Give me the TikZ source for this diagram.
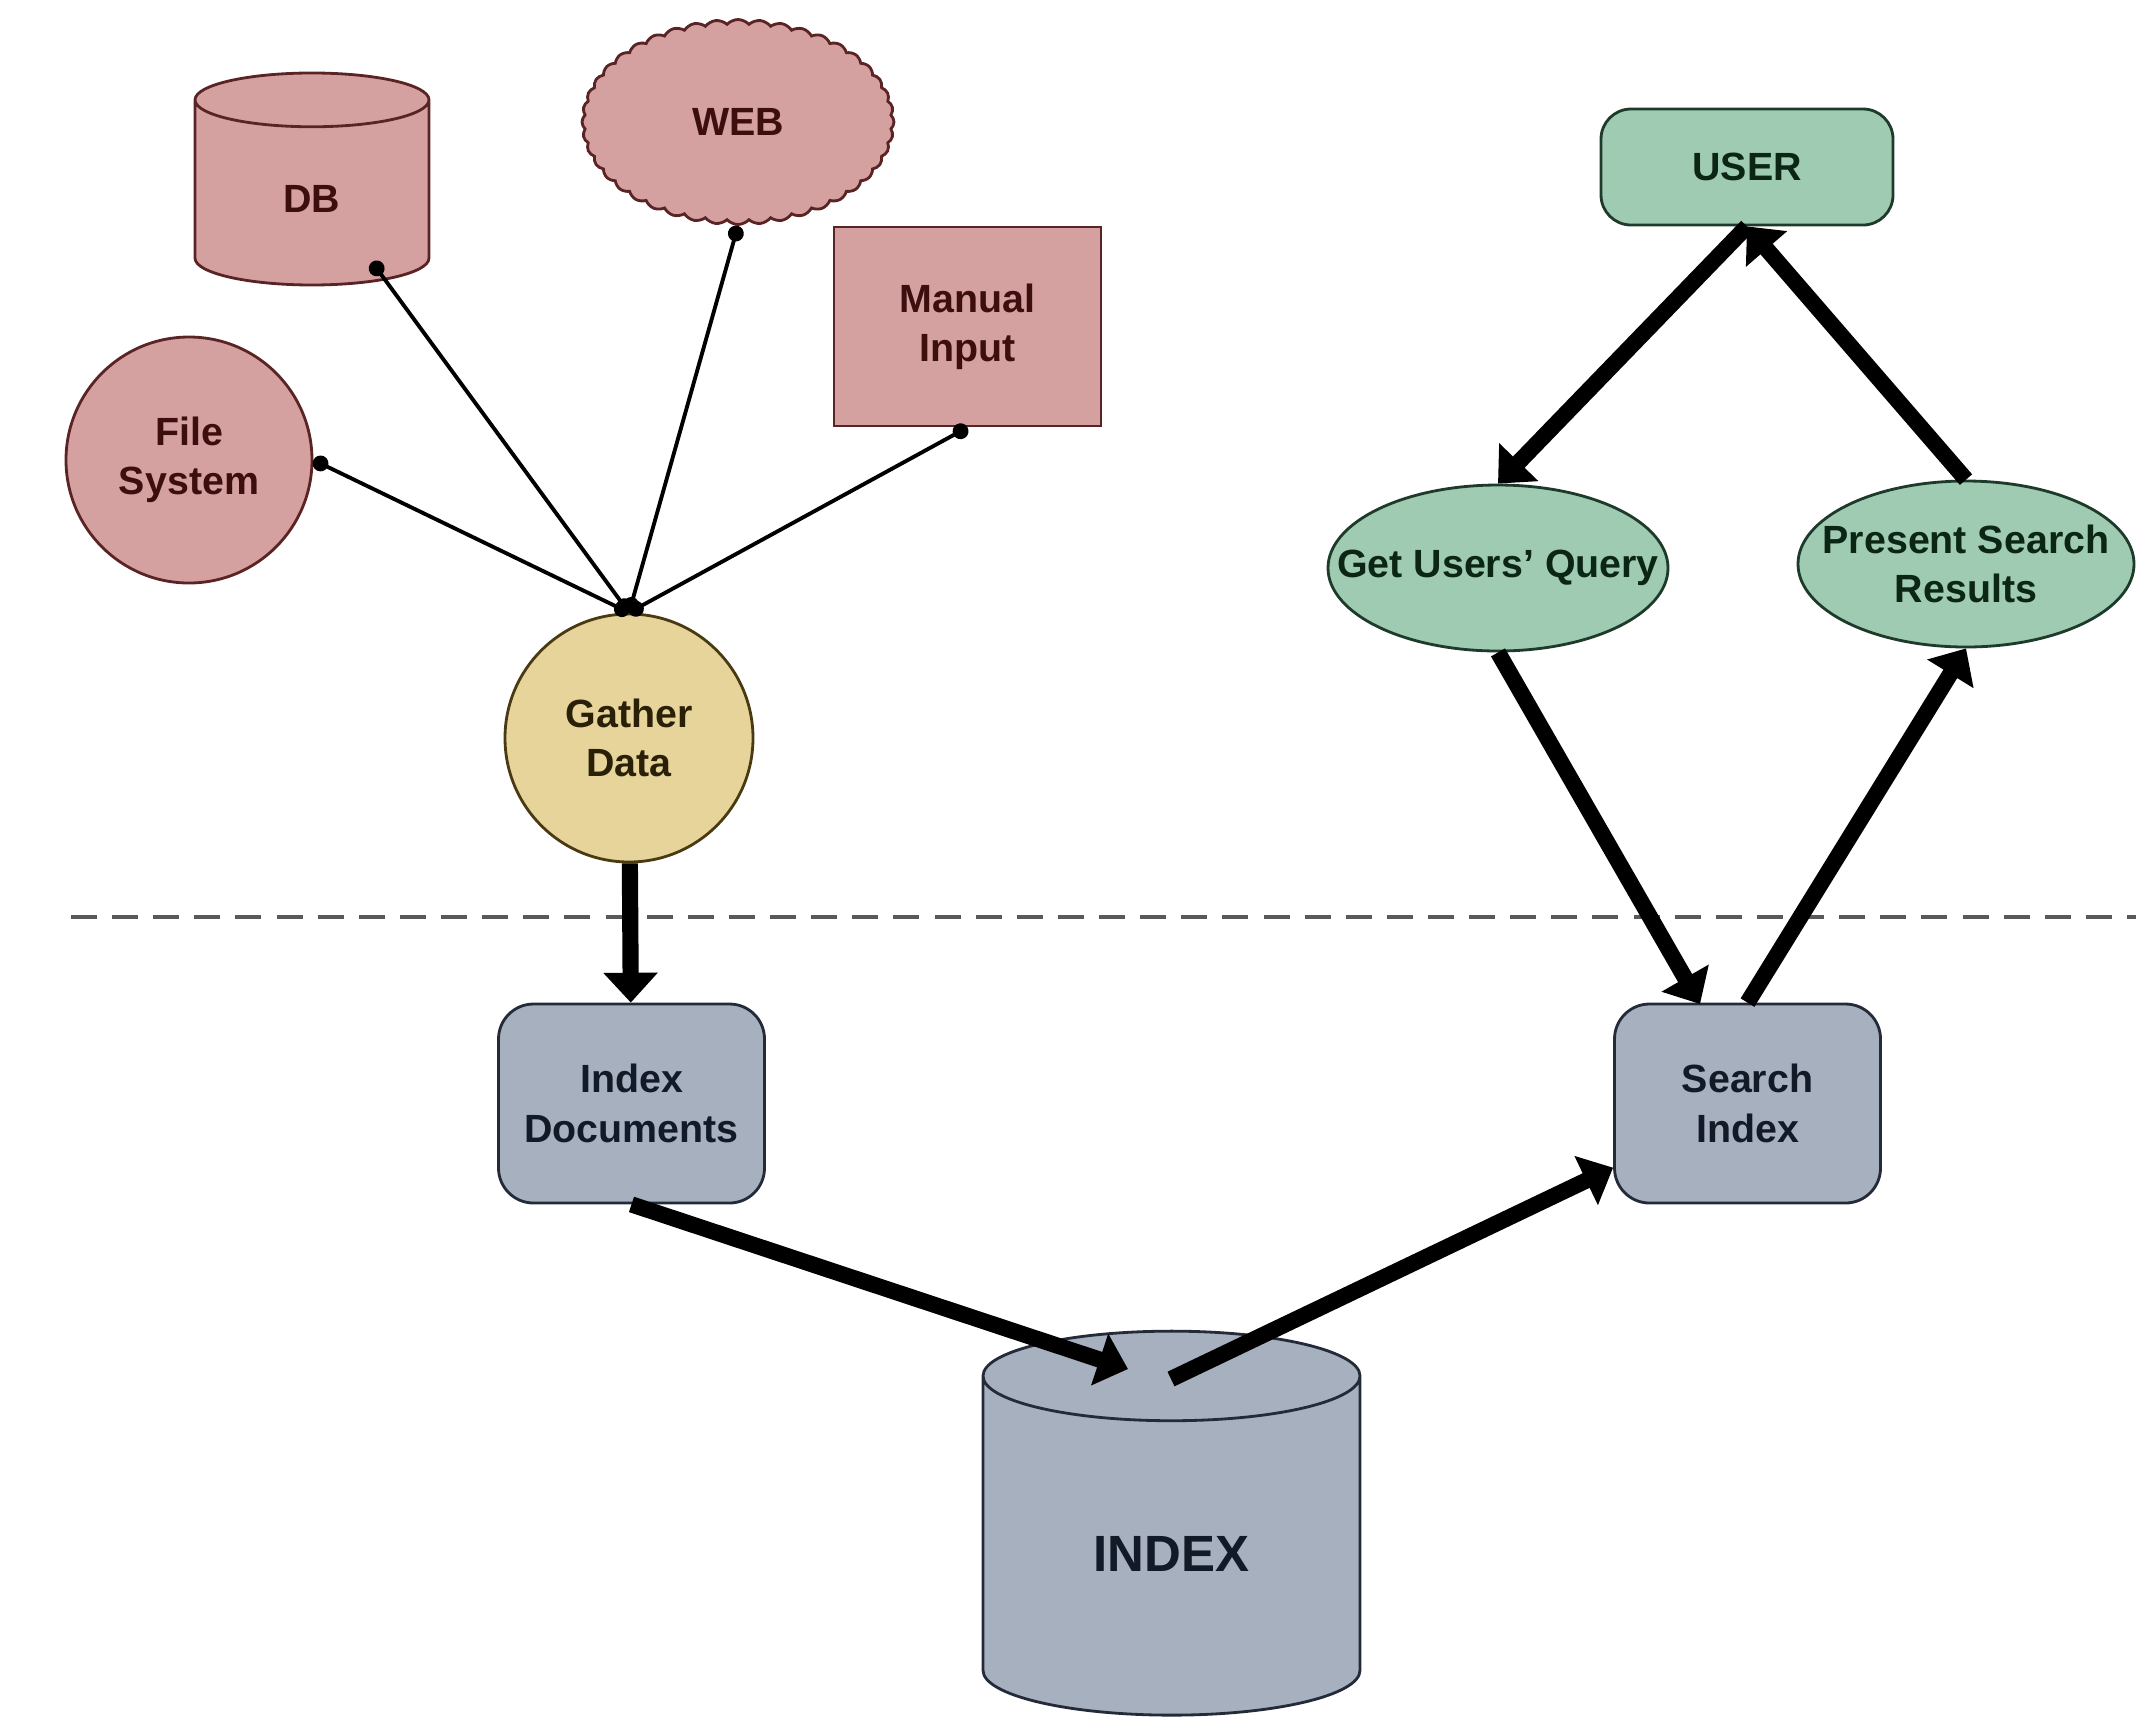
\documentclass[tikz,border=0pt]{standalone}
\usepackage{fontspec}
\setmainfont{Liberation Sans}
\usetikzlibrary{shapes.geometric, shapes.symbols, arrows.meta}
\definecolor{srcpink}{HTML}{D4A0A0}
\definecolor{srcline}{HTML}{5A2424}
\definecolor{srctext}{HTML}{3C0E0E}
\definecolor{gatheryellow}{HTML}{E6D49B}
\definecolor{gatherline}{HTML}{4A3A12}
\definecolor{gathertext}{HTML}{2A2008}
\definecolor{usergreen}{HTML}{9ECBB2}
\definecolor{userline}{HTML}{1E3A2A}
\definecolor{usertext}{HTML}{0C2616}
\definecolor{idxgray}{HTML}{A7B0BF}
\definecolor{idxline}{HTML}{232A38}
\definecolor{idxtext}{HTML}{121A28}
\newcommand{\nodefont}{\fontsize{11.2}{14}\selectfont\bfseries}
\tikzset{
  source/.style={draw=srcline, fill=srcpink, text=srctext, line width=0.8pt, align=center, font=\nodefont},
  gather/.style={circle, draw=gatherline, fill=gatheryellow, text=gathertext, line width=0.8pt, minimum size=2.48cm, align=center, font=\nodefont},
  proc/.style={rectangle, rounded corners=0.35cm, draw=idxline, fill=idxgray, text=idxtext, line width=0.8pt, minimum width=2.66cm, minimum height=1.99cm, align=center, font=\nodefont},
  userbox/.style={rectangle, rounded corners=0.3cm, draw=userline, fill=usergreen, text=usertext, line width=0.8pt, minimum width=2.92cm, minimum height=1.16cm, font=\nodefont},
  userstep/.style={ellipse, draw=userline, fill=usergreen, text=usertext, line width=0.8pt, inner xsep=-0.6cm, inner ysep=0pt, minimum height=1.66cm, align=center, font=\nodefont},
  store/.style={cylinder, shape border rotate=90, aspect=0.5, draw=idxline, fill=idxgray, text=idxtext, line width=0.8pt},
  feed/.style={line width=1.1pt, {Circle[length=4.5pt]}-{Circle[length=4.5pt]}},
  flow/.style={line width=4.6pt, -{Triangle[length=8.5pt, width=15pt]}},
  divider/.style={draw=black!65, line width=1.3pt, dash pattern=on 7.4pt off 4.3pt}
}
\begin{document}
\begin{tikzpicture}
  \useasboundingbox (0,0) rectangle (21.36,-17.17);
  % Divider
  \coordinate (cutl) at (0.71,-9.17);
  \coordinate (cutr) at (21.36,-9.17);
  \draw[divider] (cutl) -- (cutr);

  % Data sources
  \node[source, cylinder, shape border rotate=90, aspect=0.67, minimum width=2.34cm, minimum height=2.12cm] (db) at (3.12,-1.99) {DB};
  \node[source, cloud, cloud puffs=44, cloud puff arc=95, minimum width=3.12cm, minimum height=2.05cm] (web) at (7.38,-1.22) {WEB};
  \node[source, rectangle, minimum width=2.67cm, minimum height=1.99cm] (manual) at (9.675,-3.265) {Manual\\Input};
  \node[source, circle, minimum size=2.46cm] (filesys) at (1.89,-4.60) {File\\System};
  \coordinate (dbpin) at (3.72,-2.62);

  % Indexing side
  \node[gather] (gather) at (6.29,-7.38) {Gather\\Data};
  \node[proc] (idxdoc) at (6.315,-11.035) {Index\\Documents};
  \node[store, minimum width=3.77cm, minimum height=3.84cm, font=\fontsize{14.5}{17}\selectfont\bfseries] (index) at (11.715,-15.54) {INDEX};
  \coordinate (idxin) at (11.28,-13.69);
  \coordinate (idxout) at (11.71,-13.79);

  % Search side
  \node[userbox] (user) at (17.47,-1.67) {USER};
  \node[userstep, minimum width=3.40cm] (query) at (14.98,-5.68) {Get Users' Query};
  \node[userstep, minimum width=3.36cm] (present) at (19.66,-5.64) {Present Search\\Results};
  \node[proc] (sidx) at (17.475,-11.035) {Search\\Index};
  \coordinate (sidxin) at (17.0,-10.04);

  % Connections
  \draw[feed] (filesys.east) -- (gather.north);
  \draw[feed] (dbpin) -- (gather.north);
  \draw[feed] (web.south) -- (gather.north);
  \draw[feed] (manual.south) -- (gather.north);
  \draw[flow] (gather) -- (idxdoc);
  \draw[flow] (idxdoc.south) -- (idxin);
  \draw[flow] (idxout) -- (sidx);
  \draw[flow] (user.south) -- (query.north);
  \draw[flow] (present.north) -- (user.south);
  \draw[flow] (query.south) -- (sidxin);
  \draw[flow] (sidx.north) -- (present.south);
\end{tikzpicture}
\end{document}
